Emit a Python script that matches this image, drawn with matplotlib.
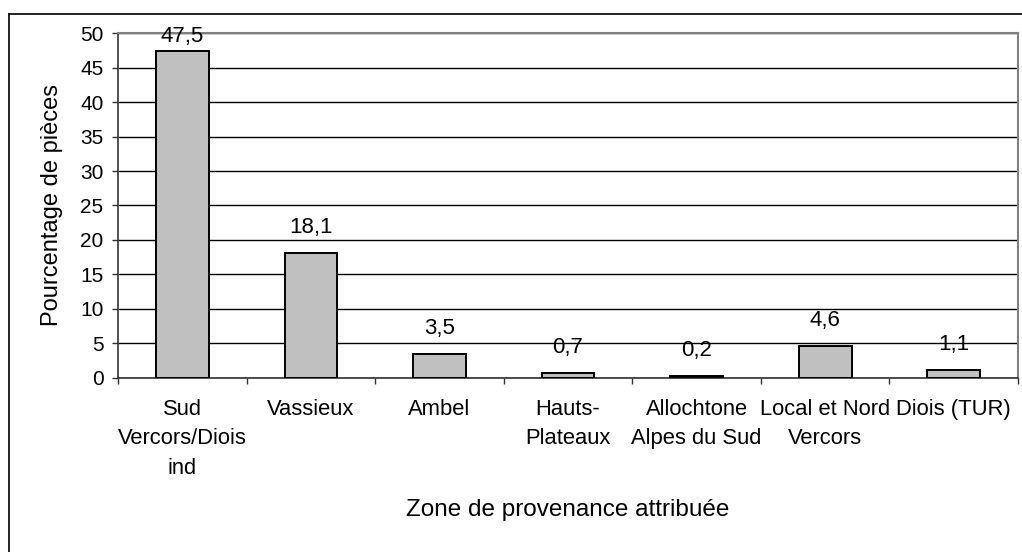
import matplotlib
matplotlib.use("Agg")
import matplotlib.pyplot as plt
from matplotlib.lines import Line2D
import numpy as np

categories = ["Sud\nVercors/Diois\nind", "Vassieux", "Ambel", "Hauts-\nPlateaux",
              "Allochtone\nAlpes du Sud", "Local et Nord\nVercors", "Diois (TUR)"]
values = [47.5, 18.1, 3.5, 0.7, 0.2, 4.6, 1.1]
value_labels = ["47,5", "18,1", "3,5", "0,7", "0,2", "4,6", "1,1"]
yticks = [0, 5, 10, 15, 20, 25, 30, 35, 40, 45, 50]

plt.rcParams["font.family"] = ["Liberation Sans", "DejaVu Sans"]

W, H = 1022, 552
fig = plt.figure(figsize=(W / 100, H / 100), dpi=100)

# plot area in pixel coordinates
x0, x1, ytop, ybot = 118, 1018, 33.3, 377.7
ax = fig.add_axes([x0 / W, (H - ybot) / H, (x1 - x0) / W, (ybot - ytop) / H])
px_per_unit = (ybot - ytop) / 50.0

# outer frame (left and top edges)
fig.add_artist(Line2D([8.5 / W, 8.5 / W], [0, (H - 13.5) / H], color="black", lw=1.2,
                      transform=fig.transFigure))
fig.add_artist(Line2D([8.5 / W, 1], [(H - 13.5) / H, (H - 13.5) / H], color="black", lw=1.2,
                      transform=fig.transFigure))

x = np.arange(len(values))
ax.bar(x, values, width=0.41, color="#c0c0c0", edgecolor="black", linewidth=1.4, zorder=3)

# value labels sit ~20 px above each bar, kept inside the top of the chart
gap = 20 / px_per_unit
cap = 48.7
for xi, v, lab in zip(x, values, value_labels):
    ax.text(xi, min(v + gap, cap), lab, ha="center", va="baseline",
            fontsize=16, zorder=4)

ax.set_xlim(-0.5, len(values) - 0.5)
ax.set_ylim(0, 50)
ax.set_yticks(yticks)
ax.set_yticklabels([str(t) for t in yticks], fontsize=15)
ax.yaxis.grid(True, color="black", linewidth=1.0, zorder=0)
ax.set_axisbelow(True)

ax.set_xticks(x)
ax.set_xticklabels(categories, fontsize=15.8, linespacing=1.55)
ax.set_xticks(np.arange(-0.5, len(values)), minor=True)
ax.tick_params(axis="x", which="major", length=0, pad=15)
ax.tick_params(axis="x", which="minor", length=4.5, width=1.0, direction="out", color="#333333")
ax.tick_params(axis="y", length=4.5, width=1.0, direction="out", pad=6, color="#333333")

for side in ("top", "right"):
    ax.spines[side].set_color("#808080")
    ax.spines[side].set_linewidth(1.5)
for side in ("left", "bottom"):
    ax.spines[side].set_color("#333333")
    ax.spines[side].set_linewidth(1.2)

ax.set_ylabel("Pourcentage de pièces", fontsize=17)
ax.yaxis.set_label_coords((52 - x0) / (x1 - x0), 0.5)
ax.set_xlabel("Zone de provenance attribuée", fontsize=17.5)
ax.xaxis.set_label_coords(0.5, -(510 - ybot) / (ybot - ytop))
ax.xaxis.label.set_va("center")
ax.yaxis.label.set_va("center")

fig.savefig("out.png", dpi=100, facecolor="white")
